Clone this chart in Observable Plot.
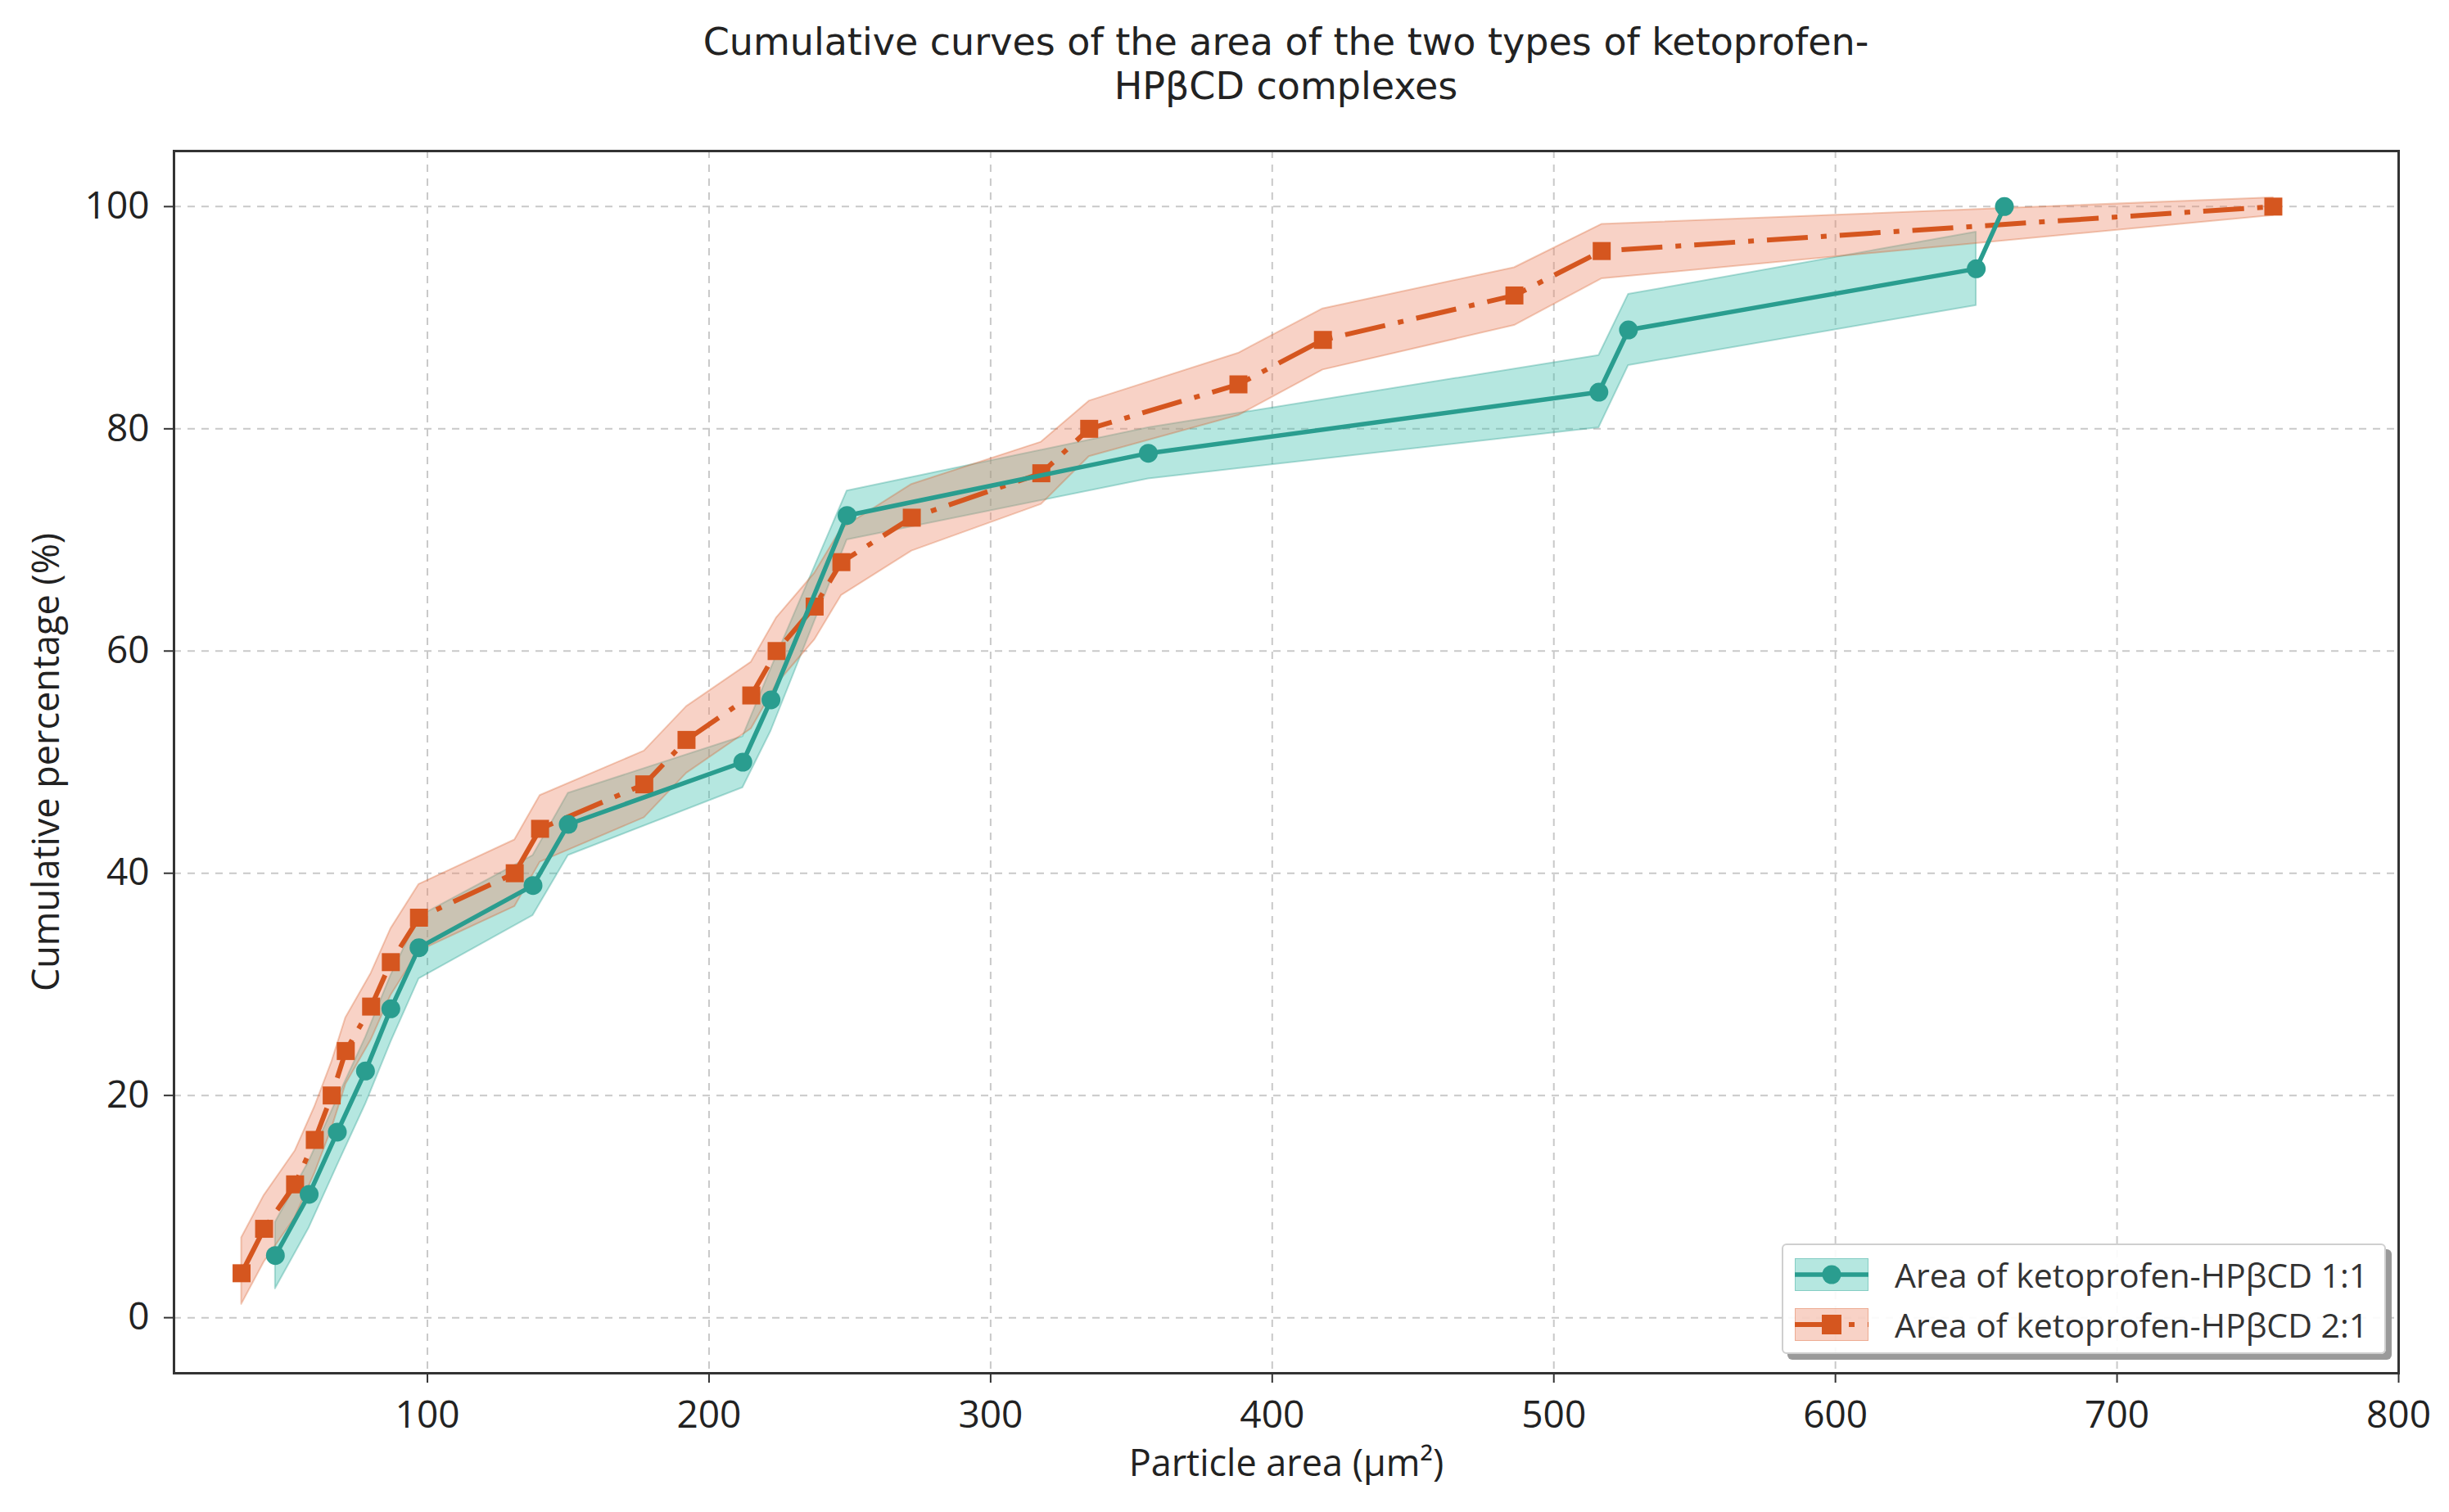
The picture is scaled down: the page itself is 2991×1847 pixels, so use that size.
<!DOCTYPE html>
<html>
<head>
<meta charset="utf-8">
<script src="https://cdn.jsdelivr.net/npm/d3@7"></script>
<script src="https://cdn.jsdelivr.net/npm/@observablehq/plot@0.6"></script>
<style>
  html, body { margin: 0; padding: 0; background: #fff; }
  body { width: 2991px; height: 1847px; position: relative; overflow: hidden; font-family: "Open Sans", sans-serif; }
  .title { position: absolute; left: 212px; width: 2717px; text-align: center; font-family: "DejaVu Sans", sans-serif; font-size: 46px; line-height: 54px; height: 54px; color: #222; white-space: nowrap; }
  #t1 { top: 24px; }
  #t2 { top: 78px; }
  #chart { position: absolute; left: 0; top: 150px; }
  #legend { position: absolute; left: 2176px; top: 1519px; width: 738px; height: 135px; background: rgba(255,255,255,0.9);
            border: 2px solid #cfcfcf; border-radius: 6px; box-shadow: 7px 7px 0 #9a9a9a; box-sizing: border-box; }
  #legend .row { position: absolute; left: 14px; height: 40px; display: flex; align-items: center; }
  #legend .row span { margin-left: 32px; font-size: 41px; color: #333; white-space: nowrap; }
</style>
</head>
<body>
<div class="title" id="t1"></div>
<div class="title" id="t2"></div>
<div id="chart"></div>
<div id="legend"></div>
<script>
// ---- data ----
const titleLines = ["Cumulative curves of the area of the two types of ketoprofen-", "HPβCD complexes"];
const seriesNames = ["Area of ketoprofen-HPβCD 1:1", "Area of ketoprofen-HPβCD 2:1"];

// 1:1 complex (teal, circles)
const tealX = [46, 58, 68, 78, 87, 97, 137.5, 150, 212, 222, 249, 356, 516, 526.5, 650, 660];
const tealY = [5.6, 11.1, 16.7, 22.2, 27.8, 33.3, 38.9, 44.4, 50, 55.6, 72.2, 77.8, 83.3, 88.9, 94.4, 100];
// shaded band (drawn up to the 94.4 % point)
const tealBandX  = [46, 58, 68, 78, 87, 97, 137.5, 150, 212, 222, 249, 356, 516, 526.5, 650];
const tealBandLo = [2.6, 8.1, 13.7, 19.2, 24.8, 30.5, 36.2, 41.6, 47.7, 52.8, 70.0, 75.5, 80.1, 85.7, 91.1];
const tealBandHi = [8.6, 14.1, 19.7, 25.2, 30.8, 36.1, 41.6, 47.2, 52.3, 58.4, 74.4, 80.1, 86.6, 92.1, 97.7];

// 2:1 complex (orange, squares)
const orangeX = [34, 42, 53, 60, 66, 71, 80, 87, 97, 131, 140, 177, 192, 215, 224, 237.5, 247, 272, 318, 335, 388, 418, 486, 517, 755.5];
const orangeY = [4, 8, 12, 16, 20, 24, 28, 32, 36, 40, 44, 48, 52, 56, 60, 64, 68, 72, 76, 80, 84, 88, 92, 96, 100];
const orangeBandLo = [1.2, 5, 9, 13, 17, 21, 25, 29, 33, 37, 41, 45, 49, 53, 57, 61, 65, 69, 73.2, 77.5, 81.2, 85.3, 89.3, 93.5, 99.2];
const orangeBandHi = [7.2, 11, 15, 19, 23, 27, 31, 35, 39, 43, 47, 51, 55, 59, 63, 67, 71, 75, 78.8, 82.5, 86.8, 90.8, 94.5, 98.4, 100.8];

const xTicks = [100, 200, 300, 400, 500, 600, 700, 800];
const yTicks = [0, 20, 40, 60, 80, 100];
const xLabel = "Particle area (μm²)";
const yLabel = "Cumulative percentage (%)";

// ---- styles ----
const TEAL = "#2a9d8f";
const TEAL_FILL = "#3dbfae";
const ORANGE = "#d5561f";
const ORANGE_FILL = "#ec8a68";
const FONT = "'Open Sans', sans-serif";

document.getElementById("t1").textContent = titleLines[0];
document.getElementById("t2").textContent = titleLines[1];

const teal = tealX.map((x, i) => ({x, y: tealY[i]}));
const tealBand = tealBandX.map((x, i) => ({x, lo: tealBandLo[i], hi: tealBandHi[i]}));
const orange = orangeX.map((x, i) => ({x, y: orangeY[i]}));
const orangeBand = orangeX.map((x, i) => ({x, lo: orangeBandLo[i], hi: orangeBandHi[i]}));

const gridStyle = {stroke: "#c9c9c9", strokeOpacity: 1, strokeWidth: 2, strokeDasharray: "9,8"};

const chart = Plot.plot({
  width: 2991,
  height: 1697,
  marginLeft: 212,
  marginRight: 62,
  marginTop: 34,
  marginBottom: 170,
  style: {fontFamily: FONT, fontSize: "46px", color: "#333", background: "white", overflow: "visible"},
  x: {domain: [10, 800]},
  y: {domain: [-5, 105]},
  marks: [
    Plot.gridX(xTicks, gridStyle),
    Plot.gridY(yTicks, gridStyle),
    Plot.areaY(tealBand, {x: "x", y1: "lo", y2: "hi", fill: TEAL_FILL, fillOpacity: 0.38, stroke: TEAL, strokeOpacity: 0.35, strokeWidth: 2}),
    Plot.areaY(orangeBand, {x: "x", y1: "lo", y2: "hi", fill: ORANGE_FILL, fillOpacity: 0.38, stroke: ORANGE, strokeOpacity: 0.3, strokeWidth: 2}),
    Plot.line(orange, {x: "x", y: "y", stroke: ORANGE, strokeWidth: 6, strokeDasharray: "50,16,7,16", strokeLinecap: "butt"}),
    Plot.dot(orange, {x: "x", y: "y", symbol: "square", r: 12.4, fill: ORANGE}),
    Plot.line(teal, {x: "x", y: "y", stroke: TEAL, strokeWidth: 5.5}),
    Plot.dot(teal, {x: "x", y: "y", r: 11.5, fill: TEAL}),
    Plot.frame({stroke: "#333", strokeWidth: 3}),
    Plot.axisX(xTicks, {tickSize: 12, tickPadding: 22, fontSize: 46, strokeWidth: 2, label: null, fill: "#222"}),
    Plot.axisY(yTicks, {tickSize: 12, tickPadding: 18, fontSize: 46, strokeWidth: 2, label: null, fill: "#222"}),
    Plot.text([xLabel], {text: d => d, frameAnchor: "bottom", dy: 111, lineAnchor: "middle", fontSize: 45, fill: "#222"}),
    Plot.text([yLabel], {text: d => d, frameAnchor: "left", rotate: -90, dx: -155, lineAnchor: "middle", textAnchor: "middle", fontSize: 45, fill: "#222"})
  ]
});
document.getElementById("chart").appendChild(chart);

// ---- legend ----
const legend = document.getElementById("legend");
const swatches = [
  `<svg width="90" height="40"><rect width="90" height="40" fill="${TEAL_FILL}" fill-opacity="0.38" stroke="${TEAL}" stroke-opacity="0.35" stroke-width="2"/>
     <line x1="0" y1="20" x2="90" y2="20" stroke="${TEAL}" stroke-width="5.5"/><circle cx="45" cy="20" r="11.5" fill="${TEAL}"/></svg>`,
  `<svg width="90" height="40"><rect width="90" height="40" fill="${ORANGE_FILL}" fill-opacity="0.38" stroke="${ORANGE}" stroke-opacity="0.3" stroke-width="2"/>
     <line x1="0" y1="20" x2="90" y2="20" stroke="${ORANGE}" stroke-width="6" stroke-dasharray="50,16,7,16"/><rect x="33" y="8" width="24" height="24" fill="${ORANGE}"/></svg>`
];
seriesNames.forEach((name, i) => {
  const row = document.createElement("div");
  row.className = "row";
  row.style.top = (i === 0 ? 16 : 77) + "px";
  row.innerHTML = swatches[i] + `<span>${name}</span>`;
  legend.appendChild(row);
});
</script>
</body>
</html>
